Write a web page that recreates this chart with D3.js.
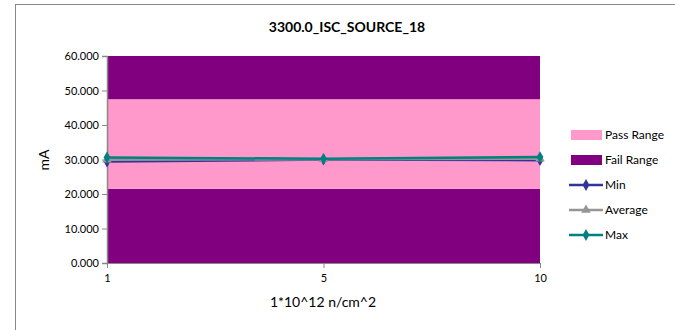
<!DOCTYPE html>
<html><head><meta charset="utf-8">
<script src="https://cdn.jsdelivr.net/npm/d3@7/dist/d3.min.js"></script>
<style>body{margin:0;background:#fff;} text{font-family:Lato, "Open Sans", sans-serif;}</style>
</head><body><svg id="c" width="675" height="330"></svg>
<script>
const categories = ["1", "5", "10"];
const passLow = [21.5, 21.5, 21.5];
const passHigh = [47.5, 47.5, 47.5];
const axisMax = [60, 60, 60];
const minVals = [29.4, 30.0, 29.8];
const avgVals = [29.9, 30.1, 30.2];
const maxVals = [30.6, 30.2, 30.7];
const yTicks = [0, 10, 20, 30, 40, 50, 60];
const legendItems = ["Pass Range", "Fail Range", "Min", "Average", "Max"];

const svg = d3.select("#c");
const L = 107, R = 540, T = 56, B = 263;
const x = d3.scalePoint().domain(categories).range([L, R]);
const y = d3.scaleLinear().domain([0, 60]).range([B, T]);

svg.append("rect").attr("x", 15.5).attr("y", 4.5).attr("width", 700).attr("height", 400)
  .attr("fill", "none").attr("stroke", "#888").attr("stroke-width", 1);

svg.append("text").attr("x", 347).attr("y", 32).attr("text-anchor", "middle")
  .attr("font-size", 14).attr("font-weight", "bold").text("3300.0_ISC_SOURCE_18");

const idx = d3.range(categories.length);
const area = (lo, hi) => d3.area().x(i => x(categories[i])).y0(i => y(lo[i])).y1(i => y(hi[i]));
const zeros = categories.map(() => 0);
svg.append("path").datum(idx).attr("d", area(zeros, passLow)).attr("fill", "#800080");
svg.append("path").datum(idx).attr("d", area(passLow, passHigh)).attr("fill", "#FF99CC");
svg.append("path").datum(idx).attr("d", area(passHigh, axisMax)).attr("fill", "#800080");

// y axis
const ya = svg.append("g").attr("transform", `translate(${L},0)`)
  .call(d3.axisLeft(y).tickValues(yTicks).tickFormat(d3.format(".3f")).tickSize(5).tickPadding(3));
ya.select(".domain").attr("stroke", "#888").attr("stroke-width", 1.5);
ya.selectAll(".tick line").attr("stroke", "#888");
ya.selectAll("text").attr("font-size", 11).attr("fill", "#000").style("font-family", "Lato, sans-serif");

// x axis
const xa = svg.append("g").attr("transform", `translate(0,${B})`)
  .call(d3.axisBottom(x).tickSize(5).tickPadding(6).tickSizeOuter(0));
xa.select(".domain").attr("stroke", "#888").attr("d", `M${L},0.5H${R}`);
xa.selectAll(".tick line").attr("stroke", "#888");
xa.selectAll("text").attr("font-size", 11).attr("fill", "#000").style("font-family", "Lato, sans-serif");

svg.append("text").attr("transform", "translate(49,160) rotate(-90)").attr("text-anchor", "middle")
  .attr("font-size", 14).text("mA");
svg.append("text").attr("x", 323).attr("y", 307).attr("text-anchor", "middle")
  .attr("font-size", 14).text("1*10^12 n/cm^2");

const series = [
  {vals: minVals, color: "#333399", marker: "diamond"},
  {vals: avgVals, color: "#969696", marker: "triangle"},
  {vals: maxVals, color: "#008080", marker: "diamond"}
];
const line = d3.line().x((d, i) => x(categories[i])).y(d => y(d));
series.forEach(s => {
  svg.append("path").datum(s.vals).attr("d", line).attr("fill", "none")
    .attr("stroke", s.color).attr("stroke-width", 2.5);
  const sym = d3.symbol().type(s.marker === "diamond" ? d3.symbolDiamond : d3.symbolTriangle).size(40);
  svg.selectAll(null).data(s.vals).enter().append("path").attr("d", sym)
    .attr("transform", (d, i) => `translate(${x(categories[i])},${y(d)})`).attr("fill", s.color);
});

// legend
const lg = svg.append("g");
legendItems.forEach((name, i) => {
  const yy = 135 + i * 25;
  if (i < 2) {
    lg.append("rect").attr("x", 571).attr("y", yy - 5).attr("width", 31).attr("height", 10)
      .attr("fill", i === 0 ? "#FF99CC" : "#800080");
  } else {
    const s = series[i - 2];
    lg.append("line").attr("x1", 569).attr("x2", 603).attr("y1", yy).attr("y2", yy)
      .attr("stroke", s.color).attr("stroke-width", 2.5);
    lg.append("path").attr("d", d3.symbol().type(s.marker === "diamond" ? d3.symbolDiamond : d3.symbolTriangle).size(40))
      .attr("transform", `translate(586,${yy})`).attr("fill", s.color);
  }
  lg.append("text").attr("x", 605).attr("y", yy + 4).attr("font-size", 12).text(name);
});
</script></body></html>
